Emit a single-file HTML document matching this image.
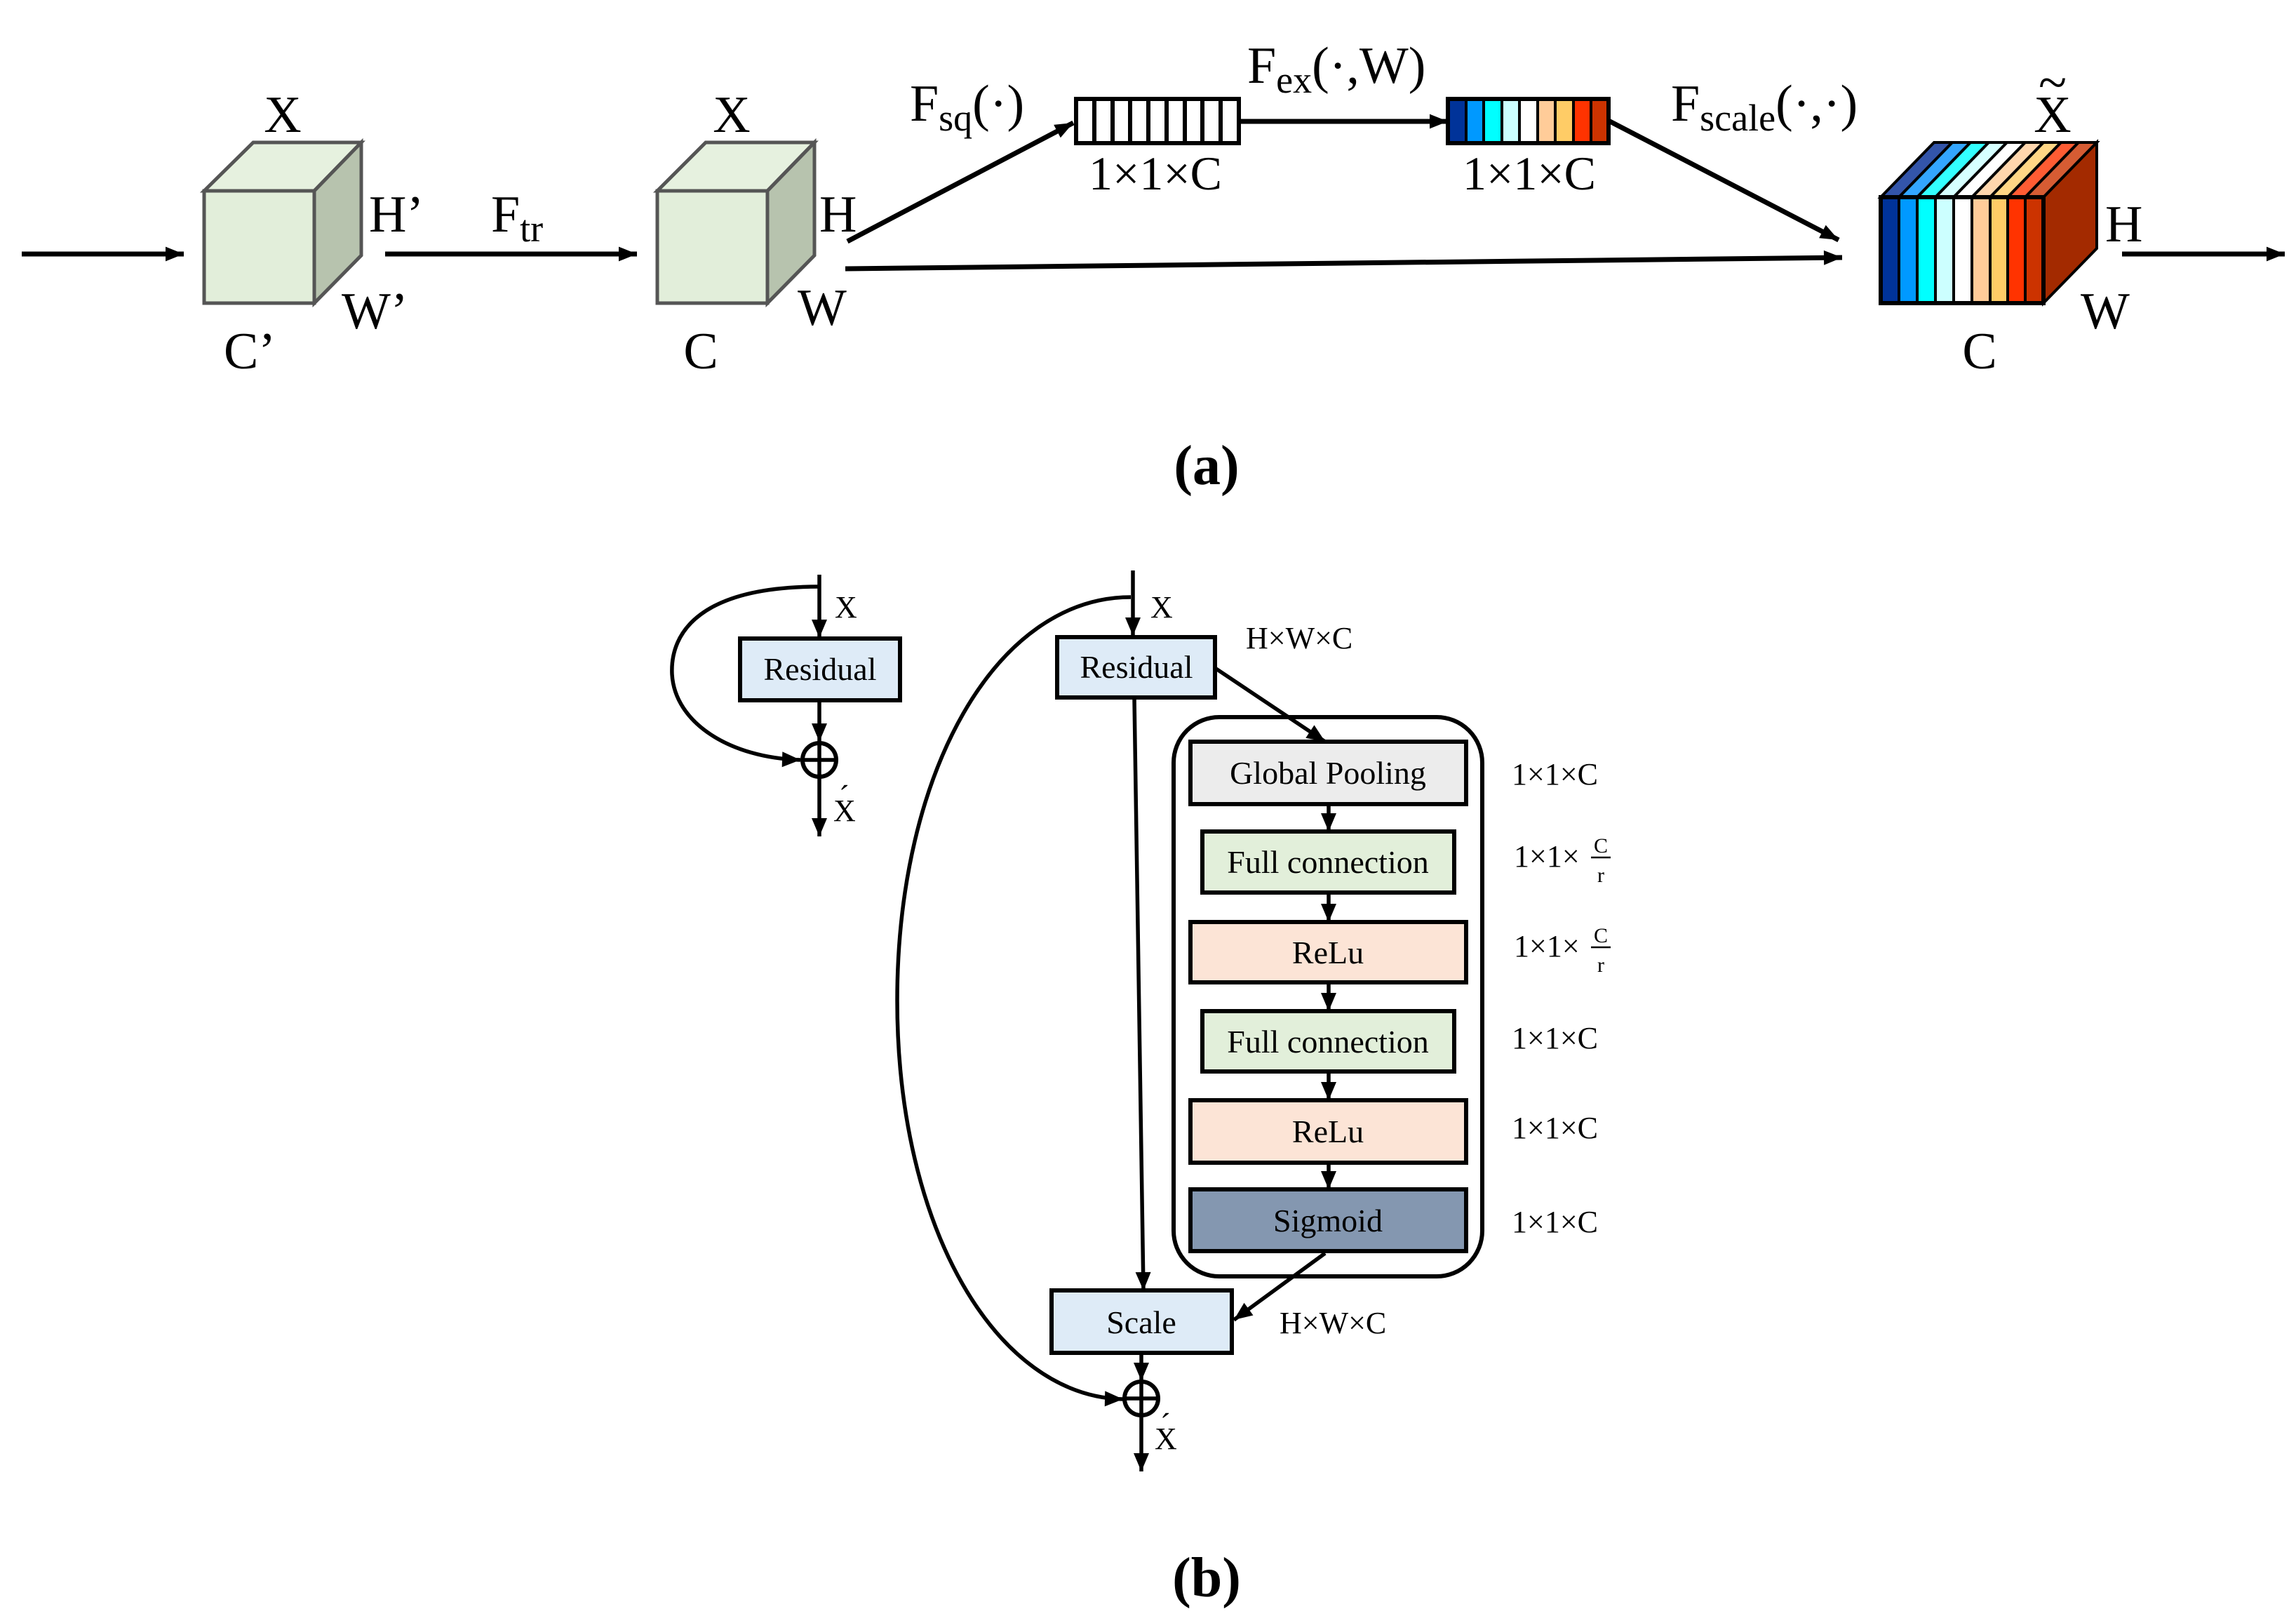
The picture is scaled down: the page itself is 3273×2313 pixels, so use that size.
<!DOCTYPE html>
<html><head><meta charset="utf-8"><style>
html,body{margin:0;padding:0;background:#fff}
svg{display:block}
text{font-family:"Liberation Serif",serif;fill:#000}
</style></head><body>
<svg width="3273" height="2313" viewBox="0 0 3273 2313" xmlns="http://www.w3.org/2000/svg">
<defs>
<marker id="ah2" markerWidth="10" markerHeight="8" refX="26" refY="10.4" orient="auto" markerUnits="userSpaceOnUse" style="overflow:visible">
<path d="M0,0 L26,10.4 L0,20.8 z" fill="#000"/>
</marker>
<marker id="ab" markerWidth="10" markerHeight="8" refX="26" refY="11" orient="auto" markerUnits="userSpaceOnUse" style="overflow:visible">
<path d="M0,0 L26,11 L0,22 z" fill="#000"/>
</marker>
</defs>

<!-- ===== Part (a) ===== -->
<g stroke="#000" stroke-width="7" fill="none">
<line x1="31" y1="362" x2="262" y2="362" marker-end="url(#ah2)"/>
<line x1="549" y1="362" x2="908" y2="362" marker-end="url(#ah2)"/>
<line x1="1208" y1="344" x2="1530" y2="175" marker-end="url(#ah2)"/>
<line x1="1205" y1="383" x2="2626" y2="367" marker-end="url(#ah2)"/>
<line x1="1767" y1="173" x2="2064" y2="173" marker-end="url(#ah2)"/>
<line x1="2293" y1="172" x2="2621" y2="342" marker-end="url(#ah2)"/>
<line x1="3025" y1="362" x2="3257" y2="362" marker-end="url(#ah2)"/>
</g>

<!-- cube 1 -->
<g stroke="#555" stroke-width="5" stroke-linejoin="miter">
<polygon points="291,272 361,203 515,203 448,272" fill="#e6f1df"/>
<polygon points="448,272 515,203 515,364 448,432" fill="#b7c3ae"/>
<rect x="291" y="272" width="157" height="160" fill="#e2eeda"/>
</g>
<!-- cube 2 -->
<g stroke="#555" stroke-width="5">
<polygon points="937,272 1006,203 1161,203 1094,272" fill="#e6f1df"/>
<polygon points="1094,272 1161,203 1161,364 1094,432" fill="#b7c3ae"/>
<rect x="937" y="272" width="157" height="160" fill="#e2eeda"/>
</g>

<!-- white bar vector -->
<g stroke="#000" stroke-width="6">
<rect x="1534" y="141" width="232" height="63" fill="#fff"/>
<line x1="1560" y1="141" x2="1560" y2="204"/><line x1="1586" y1="141" x2="1586" y2="204"/>
<line x1="1611" y1="141" x2="1611" y2="204"/><line x1="1637" y1="141" x2="1637" y2="204"/>
<line x1="1663" y1="141" x2="1663" y2="204"/><line x1="1689" y1="141" x2="1689" y2="204"/>
<line x1="1714" y1="141" x2="1714" y2="204"/><line x1="1740" y1="141" x2="1740" y2="204"/>
</g>
<!-- colored bar vector -->
<g stroke="#000" stroke-width="4">
<rect x="2064" y="141" width="26" height="63" fill="#003399"/>
<rect x="2090" y="141" width="25" height="63" fill="#0099ff"/>
<rect x="2115" y="141" width="26" height="63" fill="#00ffff"/>
<rect x="2141" y="141" width="25" height="63" fill="#ccffff"/>
<rect x="2166" y="141" width="26" height="63" fill="#ffffff"/>
<rect x="2192" y="141" width="25" height="63" fill="#ffcc99"/>
<rect x="2217" y="141" width="26" height="63" fill="#ffcc66"/>
<rect x="2243" y="141" width="25" height="63" fill="#ff3300"/>
<rect x="2268" y="141" width="25" height="63" fill="#cc3300"/>
</g>
<rect x="2064" y="141" width="229" height="63" fill="none" stroke="#000" stroke-width="6"/>

<!-- cube 3 -->
<g stroke="#000" stroke-width="4">
<polygon points="2913,281 2989,203 2989,354 2913,432" fill="#a32a00"/>
<polygon points="2681,281 2757,203 2783,203 2707,281" fill="#3355aa"/>
<polygon points="2707,281 2783,203 2809,203 2733,281" fill="#33a6ff"/>
<polygon points="2733,281 2809,203 2835,203 2759,281" fill="#33ffff"/>
<polygon points="2759,281 2835,203 2861,203 2785,281" fill="#d6ffff"/>
<polygon points="2785,281 2861,203 2887,203 2811,281" fill="#ffffff"/>
<polygon points="2811,281 2887,203 2913,203 2837,281" fill="#ffd6ad"/>
<polygon points="2837,281 2913,203 2938,203 2862,281" fill="#ffd685"/>
<polygon points="2862,281 2938,203 2963,203 2887,281" fill="#ff5c33"/>
<polygon points="2887,281 2963,203 2989,203 2913,281" fill="#d65c33"/>
<rect x="2681" y="281" width="26" height="151" fill="#003399"/>
<rect x="2707" y="281" width="26" height="151" fill="#0099ff"/>
<rect x="2733" y="281" width="26" height="151" fill="#00ffff"/>
<rect x="2759" y="281" width="26" height="151" fill="#ccffff"/>
<rect x="2785" y="281" width="26" height="151" fill="#ffffff"/>
<rect x="2811" y="281" width="26" height="151" fill="#ffcc99"/>
<rect x="2837" y="281" width="25" height="151" fill="#ffcc66"/>
<rect x="2862" y="281" width="25" height="151" fill="#ff3300"/>
<rect x="2887" y="281" width="26" height="151" fill="#cc3300"/>
</g>
<rect x="2681" y="281" width="232" height="151" fill="none" stroke="#000" stroke-width="6"/>

<!-- labels (a) -->
<g font-size="74">
<text x="403" y="188" text-anchor="middle">X</text>
<text x="526" y="330">H’</text>
<text x="487" y="468">W’</text>
<text x="356" y="525" text-anchor="middle">C’</text>
<text x="700" y="330">F<tspan font-size="54" dy="14">tr</tspan></text>
<text x="1043" y="188" text-anchor="middle">X</text>
<text x="1168" y="330">H</text>
<text x="1137" y="463">W</text>
<text x="999" y="525" text-anchor="middle">C</text>
<text x="1297" y="172">F<tspan font-size="54" dy="14">sq</tspan><tspan dy="-14">(·)</tspan></text>
<text x="1778" y="118">F<tspan font-size="54" dy="14">ex</tspan><tspan dy="-14">(·,W)</tspan></text>
<text x="2382" y="172">F<tspan font-size="54" dy="14">scale</tspan><tspan dy="-14">(·,·)</tspan></text>
<text x="2926" y="188" text-anchor="middle">X</text>
<text x="2926" y="142" text-anchor="middle">~</text>
<text x="3001" y="344">H</text>
<text x="2966" y="468">W</text>
<text x="2822" y="525" text-anchor="middle">C</text>
</g>
<g font-size="68">
<text x="1647" y="270" text-anchor="middle">1×1×C</text>
<text x="2180" y="270" text-anchor="middle">1×1×C</text>
</g>
<text x="1720" y="690" font-size="80" font-weight="bold" text-anchor="middle">(a)</text>

<!-- ===== Part (b) small ===== -->
<g stroke="#000" stroke-width="5.5" fill="none">
<line x1="1168" y1="819" x2="1168" y2="909" marker-end="url(#ab)"/>
<path d="M1168,836 C1000,836 955,900 958,961 C962,1030 1040,1080 1141,1083" marker-end="url(#ab)"/>
<line x1="1168" y1="998" x2="1168" y2="1057" marker-end="url(#ab)"/>
<line x1="1168" y1="1108" x2="1168" y2="1192" marker-end="url(#ab)"/>
<circle cx="1168" cy="1083" r="24" stroke-width="6"/>
<line x1="1144" y1="1083" x2="1192" y2="1083"/><line x1="1168" y1="1059" x2="1168" y2="1107"/>
</g>
<rect x="1055" y="910" width="228" height="88" fill="#deebf7" stroke="#000" stroke-width="6"/>
<text x="1169" y="969" font-size="46" text-anchor="middle">Residual</text>
<text x="1190" y="880" font-size="44">X</text>
<text x="1188" y="1170" font-size="44">X</text>
<text x="1196" y="1150" font-size="44">´</text>

<!-- ===== Part (b) big ===== -->
<g stroke="#000" stroke-width="5.5" fill="none">
<line x1="1615" y1="813" x2="1615" y2="906" marker-end="url(#ab)"/>
<path d="M1612,851 C1420,851 1279,1100 1279,1426 C1279,1750 1420,1990 1601,1994" marker-end="url(#ab)"/>
<line x1="1617" y1="995" x2="1630" y2="1839" marker-end="url(#ab)"/>
<line x1="1732" y1="952" x2="1889" y2="1057" marker-end="url(#ab)"/>
<line x1="1889" y1="1786" x2="1759" y2="1881" marker-end="url(#ab)"/>
<line x1="1894" y1="1146" x2="1894" y2="1185" marker-end="url(#ab)"/>
<line x1="1894" y1="1272" x2="1894" y2="1314" marker-end="url(#ab)"/>
<line x1="1894" y1="1400" x2="1894" y2="1441" marker-end="url(#ab)"/>
<line x1="1894" y1="1527" x2="1894" y2="1568" marker-end="url(#ab)"/>
<line x1="1894" y1="1657" x2="1894" y2="1695" marker-end="url(#ab)"/>
<line x1="1627" y1="1928" x2="1627" y2="1968" marker-end="url(#ab)"/>
<line x1="1627" y1="2018" x2="1627" y2="2097" marker-end="url(#ab)"/>
<circle cx="1627" cy="1993" r="24" stroke-width="6"/>
<line x1="1603" y1="1993" x2="1651" y2="1993"/><line x1="1627" y1="1969" x2="1627" y2="2017"/>
<rect x="1673" y="1022" width="440" height="797" rx="65" ry="65" stroke-width="6"/>
</g>
<g stroke="#000" stroke-width="6">
<rect x="1507" y="908" width="225" height="86" fill="#deebf7"/>
<rect x="1697" y="1057" width="393" height="89" fill="#ececec"/>
<rect x="1714" y="1185" width="359" height="87" fill="#e2efda"/>
<rect x="1697" y="1314" width="393" height="86" fill="#fce4d6"/>
<rect x="1714" y="1441" width="359" height="86" fill="#e2efda"/>
<rect x="1697" y="1568" width="393" height="89" fill="#fce4d6"/>
<rect x="1697" y="1695" width="393" height="88" fill="#8497b0"/>
<rect x="1499" y="1839" width="257" height="89" fill="#deebf7"/>
</g>
<g font-size="46" text-anchor="middle">
<text x="1620" y="966">Residual</text>
<text x="1893" y="1117">Global Pooling</text>
<text x="1893" y="1244">Full connection</text>
<text x="1893" y="1373">ReLu</text>
<text x="1893" y="1500">Full connection</text>
<text x="1893" y="1628">ReLu</text>
<text x="1893" y="1755">Sigmoid</text>
<text x="1627" y="1900">Scale</text>
</g>
<text x="1640" y="880" font-size="44">X</text>
<text x="1646" y="2065" font-size="44">X</text>
<text x="1654" y="2045" font-size="44">´</text>
<g font-size="44">
<text x="1776" y="924">H×W×C</text>
<text x="1824" y="1900">H×W×C</text>
<text x="2155" y="1118">1×1×C</text>
<text x="2158" y="1235">1×1×</text>
<text x="2158" y="1363">1×1×</text>
<text x="2155" y="1494">1×1×C</text>
<text x="2155" y="1622">1×1×C</text>
<text x="2155" y="1756">1×1×C</text>
</g>
<g font-size="30" text-anchor="middle">
<text x="2282" y="1215">C</text><text x="2282" y="1257">r</text>
<text x="2282" y="1343">C</text><text x="2282" y="1385">r</text>
</g>
<line x1="2268" y1="1222" x2="2296" y2="1222" stroke="#000" stroke-width="2.5"/>
<line x1="2268" y1="1350" x2="2296" y2="1350" stroke="#000" stroke-width="2.5"/>
<text x="1720" y="2275" font-size="80" font-weight="bold" text-anchor="middle">(b)</text>
</svg>
</body></html>
